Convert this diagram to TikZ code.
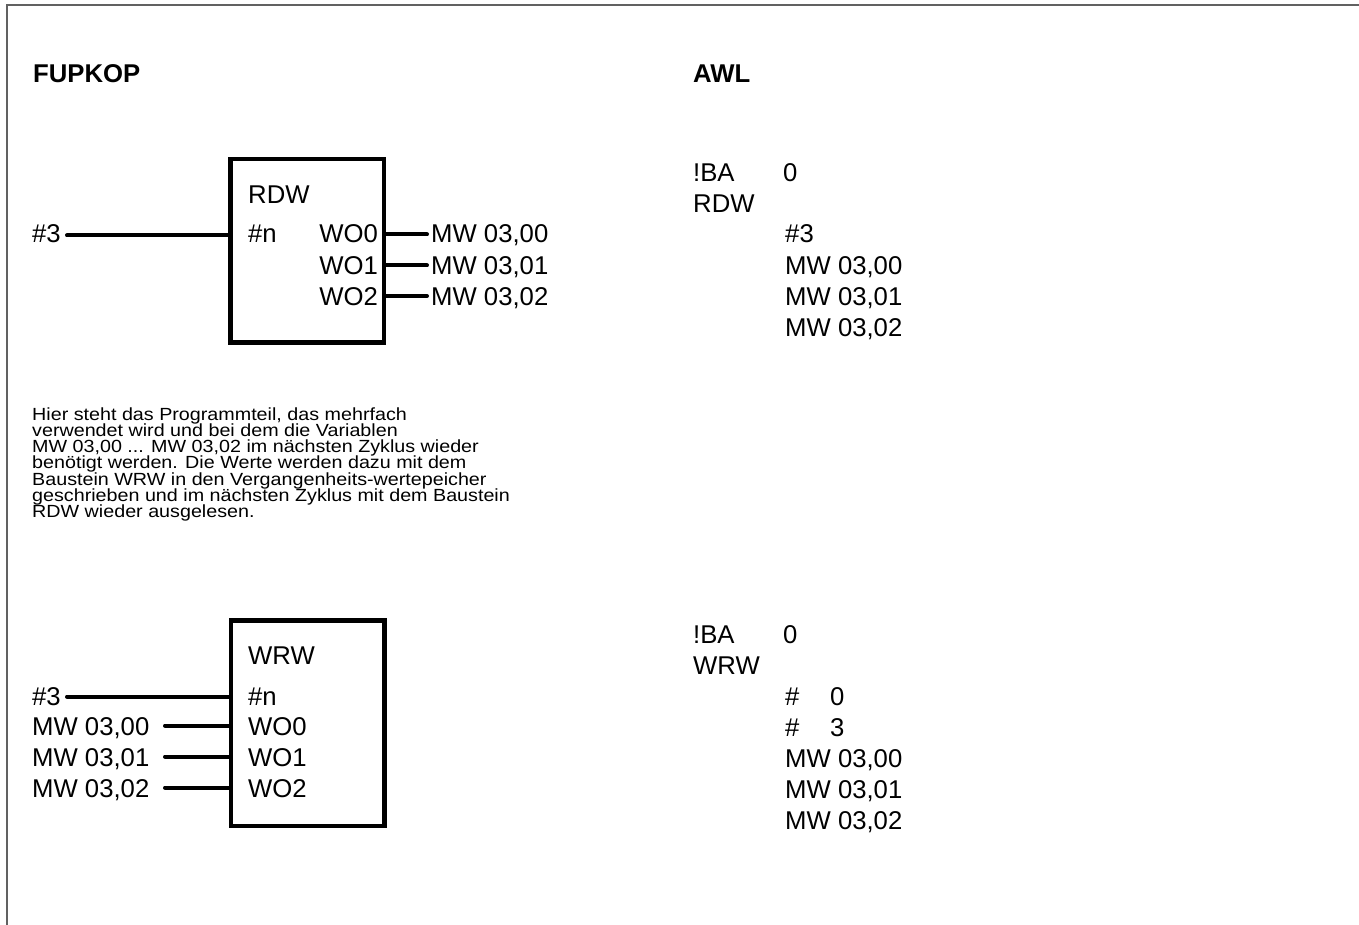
\documentclass[tikz,border=0pt]{standalone}
\usepackage{fontspec}
\setmainfont{Liberation Sans}
\newfontfamily\parafont[FakeStretch=1.12]{Liberation Sans}
\begin{document}
\begin{tikzpicture}[x=1pt,y=-1pt]
\tikzset{
 big/.style={font=\fontsize{25.7}{31}\selectfont, inner sep=0, anchor=base west},
 bigr/.style={big, anchor=base east},
 head/.style={font=\fontsize{25.7}{31}\selectfont\bfseries, inner sep=0, anchor=base west},
 small/.style={font=\parafont\fontsize{17.6}{16.3}\selectfont, inner sep=0, anchor=base west},
 fb/.style={draw, line width=4.5, minimum width=153.5, inner sep=0},
 wire/.style={line width=4, line cap=round},
 frame/.style={draw=black!62, line width=2}
}
\useasboundingbox (0,0) rectangle (1359,925);
% frame (top and left edges)
\draw[frame] (7,925) -- (7,5) -- (1359,5);

% headings
\node[head] (fupkop) at (33,83) {FUPKOP};
\node[head] (awl) at (693,83) {AWL};

% ---------------- RDW block ----------------
\node[fb, minimum height=183.5] (rdw) at (307.25,250.75) {};
\node[big] (rdwname) at (248,204) {RDW};
\node[big] (rdwn) at (248,243) {\#n};
\node[bigr] (rwo0) at (378,243) {WO0};
\node[bigr] (rwo1) at (378,274) {WO1};
\node[bigr] (rwo2) at (378,305) {WO2};
\node[big] (rin) at (32,243) {\#3};
\node[big] (rmw0) at (431,243) {MW 03,00};
\node[big] (rmw1) at (431,274) {MW 03,01};
\node[big] (rmw2) at (431,305) {MW 03,02};
\coordinate (rinend) at (67,235.5);
\coordinate (ro0) at (427,234.5);
\coordinate (ro1) at (427,265.5);
\coordinate (ro2) at (427,296);
\draw[wire] (rinend) -- (rdw.west |- rinend);
\draw[wire] (rdw.east |- ro0) -- (ro0);
\draw[wire] (rdw.east |- ro1) -- (ro1);
\draw[wire] (rdw.east |- ro2) -- (ro2);

% AWL RDW
\node[big] (a1ba) at (693,182) {!BA};
\node[big] (a1z) at (783,182) {0};
\node[big] (a1rdw) at (693,213) {RDW};
\node[big] (a1n) at (785,243) {\#3};
\node[big] (a1m0) at (785,274) {MW 03,00};
\node[big] (a1m1) at (785,305) {MW 03,01};
\node[big] (a1m2) at (785,336) {MW 03,02};

% paragraph
\node[small] (p1) at (32,420) {Hier steht das Programmteil, das mehrfach};
\node[small] (p2) at (32,436.3) {verwendet wird und bei dem die Variablen};
\node[small] (p3) at (32,452.6) {MW 03,00 ... MW 03,02 im nächsten Zyklus wieder};
\node[small] (p4) at (32,468.9) {benötigt werden. Die Werte werden dazu mit dem};
\node[small] (p5) at (32,485.2) {Baustein WRW in den Vergangenheits-wertepeicher};
\node[small] (p6) at (32,501.5) {geschrieben und im nächsten Zyklus mit dem Baustein};
\node[small] (p7) at (32,517.8) {RDW wieder ausgelesen.};

% ---------------- WRW block ----------------
\node[fb, minimum height=205.5] (wrw) at (307.5,723.25) {};
\node[big] (wrwname) at (248,664) {WRW};
\node[big] (wn) at (248,705) {\#n};
\node[big] (wwo0) at (248,735.5) {WO0};
\node[big] (wwo1) at (248,766.5) {WO1};
\node[big] (wwo2) at (248,797.5) {WO2};
\node[big] (win) at (32,705) {\#3};
\node[big] (wmw0) at (32,735.5) {MW 03,00};
\node[big] (wmw1) at (32,766.5) {MW 03,01};
\node[big] (wmw2) at (32,797.5) {MW 03,02};
\coordinate (winend) at (67,696.5);
\coordinate (wi0) at (165,725.5);
\coordinate (wi1) at (165,756.5);
\coordinate (wi2) at (165,787.5);
\draw[wire] (winend) -- (wrw.west |- winend);
\draw[wire] (wi0) -- (wrw.west |- wi0);
\draw[wire] (wi1) -- (wrw.west |- wi1);
\draw[wire] (wi2) -- (wrw.west |- wi2);

% AWL WRW
\node[big] (a2ba) at (693,643) {!BA};
\node[big] (a2z) at (783,643) {0};
\node[big] (a2wrw) at (693,674) {WRW};
\node[big] (a2h0) at (785,705) {\#};
\node[big] (a2v0) at (830,705) {0};
\node[big] (a2h3) at (785,736) {\#};
\node[big] (a2v3) at (830,736) {3};
\node[big] (a2m0) at (785,767) {MW 03,00};
\node[big] (a2m1) at (785,798) {MW 03,01};
\node[big] (a2m2) at (785,829) {MW 03,02};
\end{tikzpicture}
\end{document}
